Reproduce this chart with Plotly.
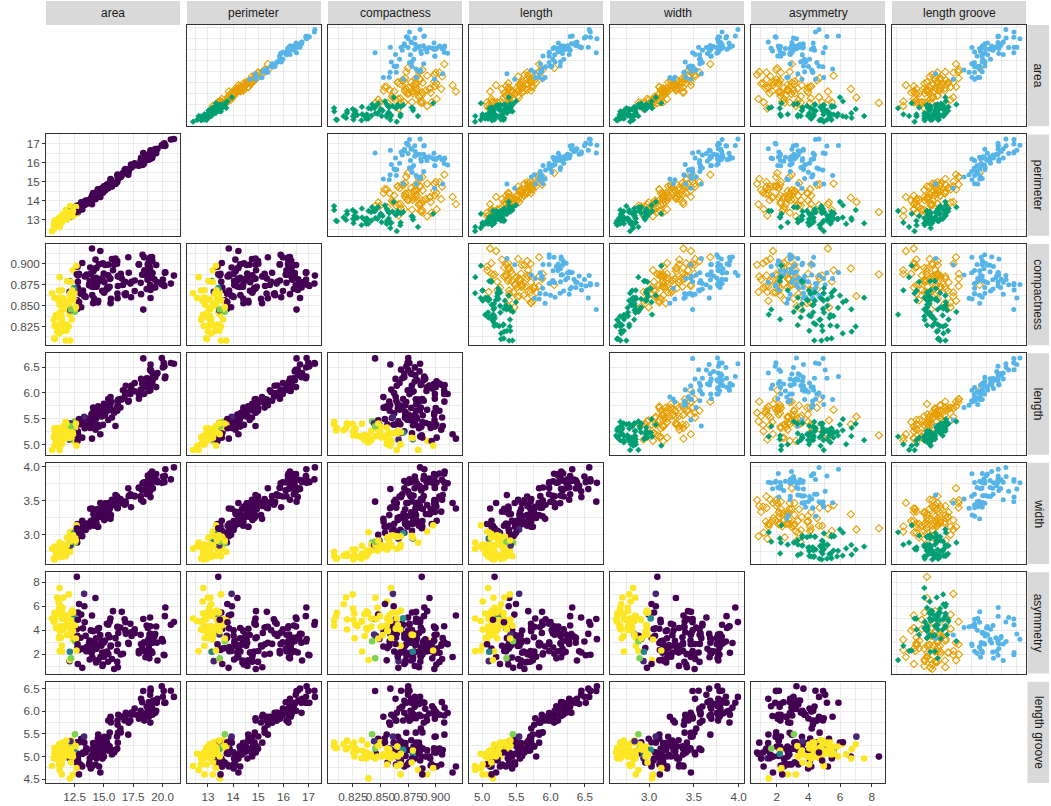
import plotly.graph_objects as go

# ---------------- data (one value per seed, in the same order in every list) ----------------
area = [
    15.26, 14.88, 14.29, 13.84, 16.14, 14.38, 14.69, 14.11, 16.63, 16.44,
    15.26, 14.03, 13.89, 13.78, 13.74, 14.59, 13.99, 15.69, 14.70, 12.72,
    14.16, 14.11, 15.88, 12.08, 15.01, 16.19, 13.02, 12.74, 14.11, 13.45,
    13.16, 15.49, 14.09, 13.94, 15.05, 16.12, 16.20, 17.08, 14.80, 14.28,
    13.54, 13.50, 13.16, 15.50, 15.11, 13.80, 15.36, 14.99, 14.79, 14.86,
    14.43, 15.78, 14.49, 14.33, 14.52, 15.03, 14.46, 14.92, 15.38, 12.11,
    11.42, 11.23, 12.36, 13.22, 12.78, 12.88, 14.34, 14.01, 14.37, 12.73,
    17.63, 16.84, 17.26, 19.11, 16.82, 16.77, 17.32, 20.71, 18.94, 17.12,
    16.53, 20.20, 19.57, 19.51, 18.27, 18.88, 18.98,
    20.10, 18.76, 18.81, 18.36, 16.87, 19.31, 18.98, 18.17, 18.72,
    16.41, 17.99, 19.46, 19.18, 18.95, 18.83, 18.85, 17.63, 19.94, 18.55,
    18.45, 19.38, 19.13, 20.97, 19.06, 18.96, 19.15, 18.89, 20.03,
    20.24, 18.14, 16.17, 18.43, 15.99, 18.75, 18.65, 17.98, 20.16,
    18.30, 18.94, 15.38, 16.16, 15.56, 15.38, 17.36, 15.57, 15.60, 16.23,
    13.07, 13.32, 13.34, 12.22, 11.82, 11.21, 11.43, 12.49, 12.70, 10.79,
    11.83, 12.01, 12.26, 11.18, 11.36, 11.19, 11.34, 12.13, 11.75, 11.49,
    12.54, 12.02, 12.05, 12.55, 11.14, 12.10, 12.44, 12.15, 11.35, 11.24,
    11.02, 11.55, 11.27, 11.40, 10.83, 10.80, 11.26, 10.74, 11.48, 12.21,
    11.41, 12.46, 12.19, 11.65, 12.89, 11.56, 11.81, 10.91, 11.23, 10.59,
    10.93, 11.27, 11.87, 10.82, 12.11, 12.80, 12.79, 13.37, 12.62, 12.76,
    12.38, 12.67, 11.18, 12.70, 12.37, 12.19, 11.23, 11.84, 12.30,
]

perimeter = [
    14.84, 14.57, 14.09, 13.94, 14.99, 14.21, 14.49, 14.10, 15.46, 15.25,
    14.85, 14.16, 14.02, 14.06, 14.05, 14.28, 13.83, 14.75, 14.21, 13.57,
    14.40, 14.26, 14.90, 13.23, 14.76, 15.16, 13.76, 13.67, 14.18, 14.02,
    13.82, 14.94, 14.41, 14.17, 14.68, 15.00, 15.27, 15.38, 14.52, 14.17,
    13.85, 13.85, 13.55, 14.86, 14.54, 14.04, 14.76, 14.56, 14.52, 14.67,
    14.40, 14.91, 14.61, 14.28, 14.60, 14.77, 14.35, 14.43, 14.77, 13.47,
    12.86, 12.63, 13.19, 13.84, 13.57, 13.50, 14.37, 14.29, 14.39, 13.75,
    15.98, 15.67, 15.73, 16.26, 15.51, 15.62, 15.91, 17.23, 16.49, 15.55,
    15.34, 16.89, 16.74, 16.71, 16.09, 16.26, 16.66,
    16.99, 16.20, 16.29, 16.52, 15.65, 16.59, 16.57, 16.26, 16.34,
    15.25, 15.86, 16.50, 16.63, 16.42, 16.29, 16.17, 15.86, 16.92, 16.22,
    16.12, 16.72, 16.31, 17.25, 16.45, 16.20, 16.45, 16.23, 16.90,
    16.91, 16.12, 15.38, 15.97, 14.89, 16.18, 16.41, 15.85, 17.03,
    15.89, 16.32, 14.90, 15.33, 14.89, 14.66, 15.76, 15.15, 15.11, 15.18,
    13.92, 13.94, 13.95, 13.32, 13.40, 13.13, 13.13, 13.46, 13.71, 12.93,
    13.23, 13.52, 13.60, 13.04, 13.05, 13.05, 12.87, 13.73, 13.52, 13.22,
    13.67, 13.33, 13.41, 13.57, 12.79, 13.15, 13.59, 13.45, 13.12, 13.00,
    13.00, 13.10, 12.97, 13.08, 12.96, 12.57, 13.01, 12.73, 13.05, 13.47,
    12.95, 13.41, 13.36, 13.07, 13.77, 13.31, 13.45, 12.80, 12.82, 12.41,
    12.80, 12.86, 13.02, 12.83, 13.27, 13.47, 13.53, 13.78, 13.67, 13.38,
    13.44, 13.32, 12.72, 13.41, 13.47, 13.20, 12.88, 13.21, 13.34,
]

compactness = [
    0.8710, 0.8811, 0.9050, 0.8955, 0.9034, 0.8951, 0.8799, 0.8911, 0.8747, 0.8880,
    0.8696, 0.8796, 0.8880, 0.8759, 0.8744, 0.8993, 0.9183, 0.9058, 0.9153, 0.8686,
    0.8584, 0.8722, 0.8988, 0.8664, 0.8657, 0.8849, 0.8641, 0.8564, 0.8820, 0.8604,
    0.8662, 0.8724, 0.8529, 0.8728, 0.8779, 0.9000, 0.8734, 0.9079, 0.8823, 0.8944,
    0.8871, 0.8852, 0.9009, 0.8820, 0.8986, 0.8794, 0.8861, 0.8883, 0.8819, 0.8676,
    0.8751, 0.8923, 0.8538, 0.8831, 0.8557, 0.8658, 0.8818, 0.9006, 0.8857, 0.8392,
    0.8683, 0.8840, 0.8923, 0.8680, 0.8716, 0.8879, 0.8726, 0.8625, 0.8726, 0.8458,
    0.8673, 0.8623, 0.8763, 0.9081, 0.8786, 0.8638, 0.8599, 0.8763, 0.8750, 0.8892,
    0.8823, 0.8894, 0.8779, 0.8780, 0.8870, 0.8969, 0.8590,
    0.8746, 0.8984, 0.8906, 0.8452, 0.8648, 0.8815, 0.8687, 0.8637, 0.8810,
    0.8866, 0.8992, 0.8985, 0.8717, 0.8829, 0.8917, 0.9056, 0.8800, 0.8752, 0.8865,
    0.8921, 0.8716, 0.9035, 0.8859, 0.8854, 0.9077, 0.8890, 0.9008, 0.8811,
    0.8897, 0.8772, 0.8588, 0.9077, 0.9064, 0.8999, 0.8698, 0.8993, 0.8735,
    0.9108, 0.8942, 0.8706, 0.8644, 0.8823, 0.8990, 0.8785, 0.8527, 0.8580, 0.8850,
    0.8480, 0.8613, 0.8620, 0.8652, 0.8274, 0.8167, 0.8335, 0.8658, 0.8491, 0.8107,
    0.8496, 0.8249, 0.8333, 0.8266, 0.8382, 0.8253, 0.8596, 0.8081, 0.8082, 0.8263,
    0.8425, 0.8503, 0.8416, 0.8558, 0.8558, 0.8793, 0.8462, 0.8443, 0.8291, 0.8359,
    0.8189, 0.8455, 0.8419, 0.8375, 0.8099, 0.8590, 0.8355, 0.8329, 0.8473, 0.8453,
    0.8560, 0.8706, 0.8579, 0.8575, 0.8541, 0.8198, 0.8198, 0.8372, 0.8594, 0.8648,
    0.8390, 0.8563, 0.8795, 0.8256, 0.8639, 0.8860, 0.8786, 0.8849, 0.8481, 0.8964,
    0.8609, 0.8977, 0.8680, 0.8874, 0.8567, 0.8783, 0.8511, 0.8521, 0.8684,
]

length = [
    5.763, 5.554, 5.291, 5.324, 5.658, 5.386, 5.563, 5.420, 6.053, 5.884,
    5.714, 5.438, 5.439, 5.479, 5.482, 5.351, 5.119, 5.527, 5.205, 5.226,
    5.658, 5.520, 5.618, 5.099, 5.789, 5.833, 5.395, 5.395, 5.541, 5.516,
    5.454, 5.757, 5.717, 5.585, 5.712, 5.709, 5.826, 5.832, 5.656, 5.397,
    5.348, 5.351, 5.138, 5.877, 5.579, 5.376, 5.701, 5.570, 5.545, 5.678,
    5.585, 5.674, 5.715, 5.504, 5.741, 5.702, 5.388, 5.384, 5.662, 5.159,
    5.008, 4.902, 5.076, 5.395, 5.262, 5.139, 5.630, 5.609, 5.569, 5.412,
    6.191, 5.998, 5.978, 6.154, 6.017, 5.927, 6.064, 6.579, 6.445, 5.850,
    5.875, 6.285, 6.384, 6.366, 6.173, 6.084, 6.549,
    6.581, 6.172, 6.272, 6.666, 6.139, 6.341, 6.449, 6.271, 6.219,
    5.718, 5.890, 6.113, 6.369, 6.248, 6.037, 6.152, 6.033, 6.675, 6.153,
    6.107, 6.303, 6.183, 6.563, 6.416, 6.051, 6.245, 6.227, 6.493,
    6.315, 6.059, 5.762, 5.980, 5.363, 6.111, 6.285, 5.979, 6.513,
    5.979, 6.144, 5.884, 5.845, 5.776, 5.477, 6.145, 5.920, 5.832, 5.872,
    5.472, 5.541, 5.389, 5.224, 5.314, 5.279, 5.176, 5.267, 5.386, 5.317,
    5.263, 5.405, 5.408, 5.220, 5.175, 5.250, 5.053, 5.394, 5.444, 5.304,
    5.451, 5.350, 5.267, 5.333, 5.011, 5.105, 5.319, 5.417, 5.176, 5.090,
    5.325, 5.167, 5.088, 5.136, 5.278, 4.981, 5.186, 5.145, 5.180, 5.357,
    5.090, 5.236, 5.240, 5.108, 5.495, 5.363, 5.413, 5.088, 5.089, 4.899,
    5.046, 5.091, 5.132, 5.180, 5.236, 5.160, 5.224, 5.320, 5.410, 5.073,
    5.219, 4.984, 5.009, 5.183, 5.204, 5.137, 5.140, 5.175, 5.243,
]

width = [
    3.312, 3.333, 3.337, 3.379, 3.562, 3.312, 3.259, 3.302, 3.465, 3.505,
    3.242, 3.201, 3.199, 3.156, 3.114, 3.333, 3.383, 3.514, 3.466, 3.049,
    3.129, 3.168, 3.507, 2.936, 3.245, 3.421, 3.026, 2.956, 3.221, 3.065,
    2.975, 3.371, 3.186, 3.150, 3.328, 3.485, 3.464, 3.683, 3.288, 3.298,
    3.156, 3.158, 3.201, 3.396, 3.462, 3.155, 3.393, 3.377, 3.291, 3.258,
    3.272, 3.434, 3.113, 3.199, 3.113, 3.212, 3.377, 3.412, 3.419, 3.032,
    2.850, 2.879, 3.042, 3.070, 3.026, 3.119, 3.190, 3.158, 3.153, 2.882,
    3.561, 3.484, 3.594, 3.930, 3.486, 3.438, 3.403, 3.814, 3.639, 3.566,
    3.467, 3.864, 3.772, 3.801, 3.651, 3.764, 3.670,
    3.785, 3.796, 3.693, 3.485, 3.463, 3.810, 3.552, 3.512, 3.684,
    3.525, 3.694, 3.892, 3.681, 3.755, 3.786, 3.806, 3.573, 3.763, 3.674,
    3.769, 3.791, 3.902, 3.991, 3.719, 3.897, 3.815, 3.769, 3.857,
    3.962, 3.563, 3.387, 3.771, 3.582, 3.869, 3.594, 3.687, 3.773,
    3.755, 3.825, 3.268, 3.395, 3.408, 3.465, 3.574, 3.231, 3.286, 3.472,
    2.994, 3.073, 3.074, 2.967, 2.777, 2.687, 2.719, 2.967, 2.911, 2.648,
    2.840, 2.776, 2.833, 2.693, 2.755, 2.675, 2.849, 2.745, 2.678, 2.695,
    2.879, 2.810, 2.847, 2.968, 2.794, 2.941, 2.897, 2.837, 2.668, 2.715,
    2.701, 2.845, 2.763, 2.763, 2.641, 2.821, 2.710, 2.642, 2.758, 2.893,
    2.775, 3.017, 2.909, 2.850, 3.026, 2.683, 2.716, 2.675, 2.821, 2.787,
    2.717, 2.804, 2.953, 2.630, 2.975, 3.126, 3.054, 3.128, 2.911, 3.155,
    2.989, 3.135, 2.810, 3.091, 2.960, 2.981, 2.795, 2.836, 2.974,
]

asymmetry = [
    2.221, 1.018, 2.699, 2.259, 1.355, 2.462, 3.586, 2.700, 2.040, 1.969,
    4.543, 1.717, 3.986, 3.136, 2.932, 4.185, 5.234, 1.599, 1.767, 4.102,
    3.072, 2.688, 0.7651, 1.415, 1.791, 0.903, 3.373, 2.504, 2.754, 3.531,
    0.8551, 3.412, 3.920, 2.124, 2.129, 2.270, 2.823, 2.956, 3.112, 6.685,
    2.587, 2.249, 2.461, 4.711, 3.128, 1.560, 1.367, 2.958, 2.704, 2.129,
    3.975, 5.593, 4.116, 3.328, 1.481, 1.933, 2.802, 1.142, 1.999, 1.502,
    2.700, 2.269, 3.220, 4.157, 1.176, 2.352, 1.313, 2.217, 1.464, 3.533,
    4.076, 4.675, 4.539, 2.936, 4.004, 4.920, 3.824, 4.451, 5.064, 2.858,
    5.532, 5.173, 1.472, 2.962, 2.443, 1.649, 3.691,
    1.955, 3.120, 3.237, 4.933, 3.696, 3.477, 2.144, 2.853, 2.188,
    4.217, 2.068, 4.308, 3.357, 3.368, 2.553, 2.843, 3.747, 3.252, 1.738,
    2.235, 3.678, 2.109, 4.677, 2.248, 4.334, 3.084, 3.639, 3.063,
    5.901, 3.619, 4.286, 2.984, 3.336, 4.188, 4.391, 2.257, 1.910,
    2.837, 2.908, 4.462, 4.266, 4.972, 3.600, 3.526, 2.640, 2.725, 3.769,
    5.304, 7.035, 5.995, 5.469, 4.471, 6.169, 2.221, 4.421, 3.260, 5.462,
    5.195, 6.992, 4.756, 3.332, 4.048, 5.813, 3.347, 4.825, 4.378, 5.388,
    3.082, 4.271, 4.988, 4.419, 6.388, 2.201, 4.924, 3.638, 4.337, 3.521,
    6.735, 6.715, 4.309, 5.588, 5.182, 4.773, 5.335, 4.702, 5.876, 1.661,
    4.957, 4.987, 4.857, 5.209, 6.185, 4.062, 4.898, 4.179, 7.524, 4.975,
    5.398, 3.985, 3.597, 4.853, 4.132, 4.873, 5.483, 4.670, 3.306, 2.828,
    5.472, 2.300, 4.051, 8.456, 3.919, 3.631, 4.325, 3.598, 5.637,
]

length_groove = [
    5.220, 4.956, 4.825, 4.805, 5.175, 4.956, 5.219, 5.000, 5.877, 5.533,
    5.314, 5.001, 4.738, 4.872, 4.825, 4.781, 4.781, 5.046, 4.649, 4.914,
    5.176, 5.219, 5.091, 4.961, 5.001, 5.307, 4.825, 4.869, 5.038, 5.097,
    5.056, 5.228, 5.299, 5.012, 5.360, 5.443, 5.527, 5.484, 5.309, 5.001,
    5.178, 5.176, 4.783, 5.528, 5.180, 4.961, 5.132, 5.175, 5.111, 5.351,
    5.144, 5.136, 5.396, 5.224, 5.487, 5.439, 5.044, 5.088, 5.222, 4.519,
    4.607, 4.703, 4.605, 5.088, 4.782, 4.607, 5.150, 5.132, 5.300, 5.067,
    6.060, 5.877, 5.791, 6.079, 5.841, 5.795, 5.922, 6.451, 6.362, 5.746,
    5.880, 6.187, 6.273, 6.185, 6.197, 6.109, 6.498,
    6.449, 6.053, 6.053, 6.448, 5.967, 6.238, 6.453, 6.273, 6.097,
    5.618, 5.837, 6.009, 6.229, 6.148, 5.879, 6.200, 5.929, 6.550, 5.894,
    5.794, 5.965, 5.924, 6.316, 6.163, 5.750, 6.185, 5.966, 6.320,
    6.188, 6.011, 5.703, 5.905, 5.144, 5.992, 6.102, 5.919, 6.185,
    5.962, 5.949, 5.795, 5.795, 5.847, 5.439, 5.971, 5.879, 5.752, 5.922,
    5.395, 5.440, 5.307, 5.221, 5.178, 5.275, 5.132, 5.002, 5.316, 5.194,
    5.307, 5.270, 5.360, 5.001, 5.263, 5.219, 5.003, 5.220, 5.310, 5.310,
    5.491, 5.308, 5.046, 5.176, 5.049, 5.056, 5.270, 5.338, 5.132, 5.088,
    5.163, 4.956, 5.000, 5.089, 5.185, 5.063, 5.092, 4.963, 5.002, 5.178,
    4.825, 5.147, 5.158, 5.135, 5.316, 5.182, 5.352, 4.956, 4.957, 4.794,
    5.045, 5.001, 5.132, 5.089, 5.012, 4.914, 4.958, 5.091, 5.231, 4.830,
    5.045, 4.745, 4.828, 5.000, 5.001, 4.870, 5.003, 5.044, 5.063,
]

# class shown in the upper panels: K = Kama, R = Rosa, C = Canadian
upper_class = list(
    "KKKKKKKKKK" "KKKKKKKKKK" "KKKKKKKKKK" "KKKKKKKKKK" "KKKKKKKKKK"
    "KKKKKKKKKC" "CCKKKKKKKK"
    "RRRRRRRRRR" "RRRRRRR" "RRRRRRRRR" "RRRRRRRRRR" "RRRRRRRRR"
    "RRRRRRRRR" "RRRRRRRRRR"
    "KKCCCCCCKC" "CCCCCCCCCC" "CCCCCCCCCC" "CCCCCCCCCC" "CCCCCCCCCC"
    "CCCCCKKKCK" "CCCKCCCCC"
)

# membership score shown in the lower panels (0 = first group ... 1 = other group)
lower_score = [
    0, 0, 0, 0, 0, 0, 0, 0, 0, 0,
    0, 0, 0, 0, 0, 0, 0, 0, 0, 0,
    0, 0, 0, 0.1, 0, 0, 0, 0, 0, 0,
    0, 0, 0, 0, 0, 0, 0, 0, 0, 0,
    0, 0, 0, 0, 0, 0, 0, 0, 0, 0,
    0, 0, 0, 0, 0, 0, 0, 0, 0, 1,
    1, 1, 1, 0, 0, 0, 0, 0, 0, 0,
    0, 0, 0, 0, 0, 0, 0, 0, 0, 0,
    0, 0, 0, 0, 0, 0, 0,
    0, 0, 0, 0, 0, 0, 0, 0, 0,
    0, 0, 0, 0, 0, 0, 0, 0, 0, 0,
    0, 0, 0, 0, 0, 0, 0, 0, 0,
    0, 0, 0, 0, 0, 0, 0, 0, 0,
    0, 0, 0, 0, 0, 0, 0, 0, 0, 0,
    0, 0.1, 0, 1, 1, 1, 1, 1, 0, 1,
    1, 1, 1, 1, 1, 1, 1, 1, 1, 1,
    0.8, 1, 1, 1, 1, 0.45, 1, 0.12, 1, 1,
    1, 1, 1, 1, 1, 1, 1, 1, 1, 0.8,
    1, 0.5, 1, 1, 0, 1, 1, 1, 1, 1,
    1, 1, 1, 1, 1, 0, 0, 0, 1, 0,
    1, 1, 1, 0, 1, 1, 1, 1, 1,
]

var_labels = ["area", "perimeter", "compactness", "length", "width", "asymmetry", "length groove"]
tick_steps = [2.5, 1, 0.025, 0.5, 0.5, 2, 0.5]
tick_formats = [".1f", ".0f", ".3f", ".1f", ".1f", ".0f", ".1f"]

columns = [area, perimeter, compactness, length, width, asymmetry, length_groove]
n_obs = len(area)
for col in columns + [upper_class, lower_score]:
    assert len(col) == n_obs, (len(col), n_obs)

# ---------------- styling ----------------
W, H = 1051, 806
NV = len(columns)
COL_LEFT0, COL_STEP, PW = 46.0, 141.0, 134.0
ROW_TOP0, ROW_STEP, PH = 25.0, 109.45, 101.3
STRIP_TOP, STRIP_BOTTOM = 1.0, 25.0
RSTRIP_L, RSTRIP_R = 1027.5, 1049.0
FONT = "Liberation Sans, Arial, sans-serif"

class_style = {
    "K": dict(symbol="diamond-open", color="#E69F00", size=5.6, line=dict(width=1.1, color="#E69F00")),
    "R": dict(symbol="circle", color="#56B4E9", size=5.0, line=dict(width=0)),
    "C": dict(symbol="diamond", color="#009E73", size=4.4, line=dict(width=0.6, color="#009E73")),
}


def xdom(c):
    l = COL_LEFT0 + COL_STEP * c
    return [l / W, (l + PW) / W]


def ydom(r):
    t = ROW_TOP0 + ROW_STEP * r
    return [1 - (t + PH) / H, 1 - t / H]


def data_range(v):
    lo, hi = min(v), max(v)
    pad = 0.05 * (hi - lo)
    return [lo - pad, hi + pad]


def axis(var, domain, anchor, labels):
    return dict(
        domain=domain, anchor=anchor, range=data_range(columns[var]), automargin=False,
        showgrid=True, gridcolor="#EBEBEB", gridwidth=1,
        zeroline=False, showline=True, mirror=True, linecolor="#333333", linewidth=1,
        tick0=0, dtick=tick_steps[var], tickformat=tick_formats[var], tickangle=0,
        minor=dict(tick0=0, dtick=tick_steps[var] / 2, showgrid=True,
                   gridcolor="#EBEBEB", gridwidth=0.5, ticks=""),
        showticklabels=labels, ticks="outside" if labels else "",
        ticklen=3, tickwidth=1, tickcolor="#333333",
        tickfont=dict(size=11.7, color="#4D4D4D", family=FONT),
        fixedrange=True,
    )


fig = go.Figure()
layout_axes = {}
k = 0
for r in range(NV):
    for c in range(NV):
        if r == c:
            continue
        k += 1
        xname = "x" if k == 1 else f"x{k}"
        yname = "y" if k == 1 else f"y{k}"
        layout_axes["xaxis" if k == 1 else f"xaxis{k}"] = axis(c, xdom(c), yname, r == NV - 1)
        layout_axes["yaxis" if k == 1 else f"yaxis{k}"] = axis(r, ydom(r), xname, c == 0)
        xs, ys = columns[c], columns[r]
        if r > c:
            fig.add_trace(go.Scatter(
                x=xs, y=ys, xaxis=xname, yaxis=yname, mode="markers", hoverinfo="skip",
                marker=dict(color=lower_score, colorscale="Viridis", cmin=0, cmax=1,
                            size=6.6, line=dict(width=0), showscale=False),
                showlegend=False,
            ))
        else:
            for cls in ["K", "R", "C"]:
                idx = [i for i in range(n_obs) if upper_class[i] == cls]
                fig.add_trace(go.Scatter(
                    x=[xs[i] for i in idx], y=[ys[i] for i in idx],
                    xaxis=xname, yaxis=yname, mode="markers", hoverinfo="skip",
                    marker=class_style[cls], showlegend=False,
                ))

shapes, annotations = [], []
for c in range(NV):
    x0, x1 = xdom(c)
    shapes.append(dict(type="rect", xref="paper", yref="paper", x0=x0, x1=x1,
                       y0=1 - STRIP_BOTTOM / H, y1=1 - STRIP_TOP / H,
                       fillcolor="#D9D9D9", line=dict(width=0), layer="below"))
    annotations.append(dict(xref="paper", yref="paper", x=(x0 + x1) / 2,
                            y=1 - (STRIP_TOP + STRIP_BOTTOM) / 2 / H, text=var_labels[c],
                            showarrow=False, xanchor="center", yanchor="middle",
                            font=dict(size=12, color="#1A1A1A", family=FONT)))
for r in range(NV):
    y0, y1 = ydom(r)
    shapes.append(dict(type="rect", xref="paper", yref="paper", x0=RSTRIP_L / W, x1=RSTRIP_R / W,
                       y0=y0, y1=y1, fillcolor="#D9D9D9", line=dict(width=0), layer="below"))
    annotations.append(dict(xref="paper", yref="paper", x=(RSTRIP_L + RSTRIP_R) / 2 / W,
                            y=(y0 + y1) / 2, text=var_labels[r], textangle=90,
                            showarrow=False, xanchor="center", yanchor="middle",
                            font=dict(size=12, color="#1A1A1A", family=FONT)))

fig.update_layout(
    width=W, height=H, autosize=False,
    margin=dict(l=0, r=0, t=0, b=0, pad=0, autoexpand=False),
    paper_bgcolor="white", plot_bgcolor="white",
    showlegend=False, shapes=shapes, annotations=annotations,
    font=dict(family=FONT),
    **layout_axes,
)

fig.write_html(
    "out.html",
    config={"displayModeBar": False},
    post_script="document.body.style.margin='0';document.body.style.padding='0';"
                "document.documentElement.style.overflow='hidden';document.body.style.overflow='hidden';",
)
